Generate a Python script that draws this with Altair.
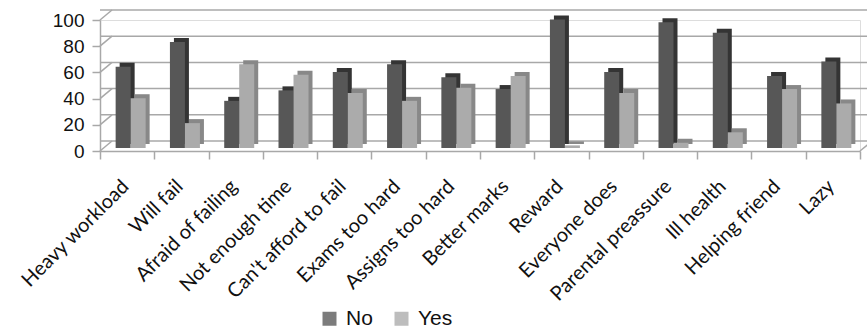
import altair as alt
import pandas as pd

categories = ["Heavy workload", "Will fail", "Afraid of failing", "Not enough time",
              "Can't afford to fail", "Exams too hard", "Assigns too hard", "Better marks",
              "Reward", "Everyone does", "Parental preassure", "Ill health",
              "Helping friend", "Lazy"]
no_values = [62, 81, 36, 44, 58, 64, 54, 45, 98, 58, 96, 88, 55, 66]
yes_values = [38, 19, 64, 56, 42, 36, 46, 55, 2, 42, 4, 12, 45, 34]
series = ["No", "Yes"]
front_colors = ["#575757", "#ababab"]
side_colors = ["#343434", "#888888"]
grid_values = [0, 20, 40, 60, 80, 100]

rows = []
for c, n, y in zip(categories, no_values, yes_values):
    rows.append({"category": c, "series": "No", "value": n})
    rows.append({"category": c, "series": "Yes", "value": y})
bars = pd.DataFrame(rows)
grid = pd.DataFrame({"g": grid_values})

DX, DY = 12, -10      # depth of the walls
BW = 15               # bar width
EX, EY = 4, -4        # bar extrusion
GRID_COLOR = "#a8a8a8"

yscale = alt.Scale(domain=[0, 100], nice=False)
xscale = alt.Scale(domain=categories, paddingInner=0, paddingOuter=0)

x_axis = alt.Axis(title=None, labelAngle=-45, labelAlign="right", labelBaseline="middle",
                  labelFont="Lato", labelFontSize=20, labelColor="#111111",
                  labelPadding=24, labelOffset=-2, labelLimit=0, labelOverlap=False,
                  tickBand="extent", tickSize=8, tickColor=GRID_COLOR, tickWidth=1.5,
                  domainColor=GRID_COLOR, domainWidth=1.5)
y_axis = alt.Axis(title=None, values=grid_values, labelFont="Liberation Sans",
                  labelFontSize=19, labelColor="#111111", labelPadding=8,
                  tickSize=8, tickColor=GRID_COLOR, tickWidth=1.5,
                  domainColor=GRID_COLOR, domainWidth=1.5, grid=False)

back_grid = alt.Chart(grid).mark_rule(
    color=GRID_COLOR, strokeWidth=1.5, xOffset=DX, x2Offset=DX, yOffset=DY, y2Offset=DY
).encode(y=alt.Y("g:Q", scale=yscale, axis=y_axis))

side_grid = alt.Chart(grid).mark_rule(
    color=GRID_COLOR, strokeWidth=1.5, x2Offset=DX, y2Offset=DY
).encode(
    x=alt.value(0), x2=alt.value(0),
    y=alt.Y("g:Q", scale=yscale, axis=y_axis), y2="g:Q"
)

floor_end = alt.Chart(grid).transform_filter("datum.g == 0").mark_rule(
    color=GRID_COLOR, strokeWidth=1.5, x2Offset=DX, y2Offset=DY
).encode(
    x=alt.value("width"), x2=alt.value("width"),
    y=alt.Y("g:Q", scale=yscale, axis=y_axis), y2="g:Q"
)


def bar_layer(name, xoff, color, front):
    base = alt.Chart(bars).transform_filter(alt.datum.series == name)
    if front:
        mk = base.mark_bar(width=BW, xOffset=xoff, yOffset=-3, y2Offset=-3)
    else:
        mk = base.mark_bar(width=BW, xOffset=xoff + EX, yOffset=-3 + EY,
                           y2Offset=-3 + EY, color=color)
    enc = dict(
        x=alt.X("category:N", sort=categories, scale=xscale, axis=x_axis),
        y=alt.Y("value:Q", scale=yscale, axis=y_axis),
    )
    if front:
        enc["color"] = alt.Color(
            "series:N",
            scale=alt.Scale(domain=series, range=front_colors),
            legend=alt.Legend(title=None, orient="none", legendX=219, legendY=288,
                              direction="horizontal", symbolType="square",
                              symbolSize=196, symbolStrokeWidth=0, symbolOpacity=0.78,
                              labelFont="Liberation Sans", labelFontSize=21,
                              labelColor="#111111", columnPadding=18, labelOffset=6,
                              padding=0),
        )
    return mk.encode(**enc)


no_side = bar_layer("No", -4, side_colors[0], False)
yes_side = bar_layer("Yes", 11, side_colors[1], False)
no_front = bar_layer("No", -4, front_colors[0], True)
yes_front = bar_layer("Yes", 11, front_colors[1], True)

chart = alt.layer(
    back_grid, side_grid, floor_end, no_side, yes_side, no_front, yes_front
).properties(
    width=760, height=131,
    autosize=alt.AutoSizeParams(type="none"),
    padding={"left": 100, "top": 20, "right": 7, "bottom": 178},
).configure_view(stroke=None).configure(background="white")

chart.save("out.html", embed_options={"renderer": "svg", "actions": False})
